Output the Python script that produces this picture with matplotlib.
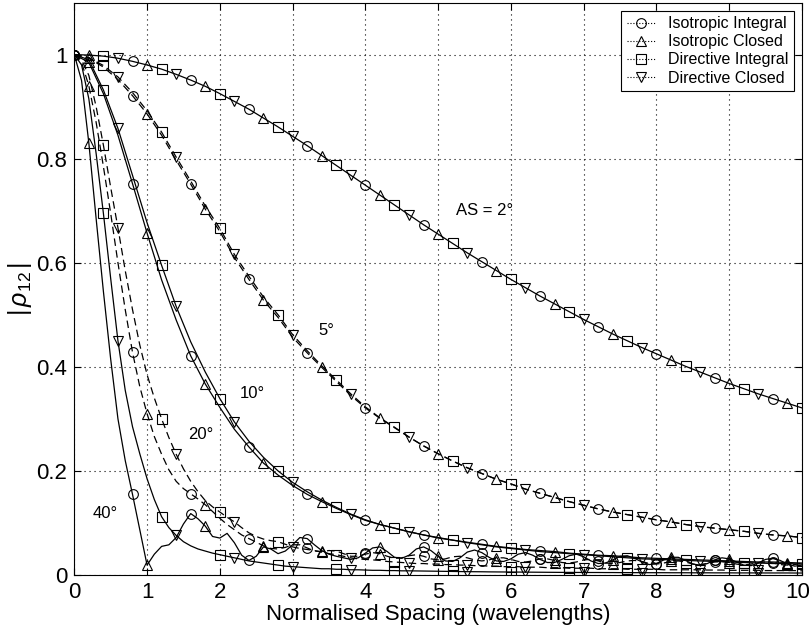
import numpy as np
import matplotlib
matplotlib.use("Agg")
import matplotlib.pyplot as plt
import matplotlib.transforms as mtransforms
from matplotlib.lines import Line2D

plt.rcParams["font.family"] = ["Liberation Sans", "DejaVu Sans"]
plt.rcParams["mathtext.fontset"] = "custom"
plt.rcParams["mathtext.rm"] = "Liberation Sans"
plt.rcParams["mathtext.it"] = "Liberation Sans:italic"

# sample positions (wavelengths)
x02 = np.round(np.arange(51) * 0.2, 1)
x01 = np.round(np.arange(101) * 0.1, 1)

# AS = 2 deg (isotropic and directive coincide)
as2 = [1.0, 0.999, 0.997, 0.993, 0.987, 0.98, 0.972, 0.962, 0.951, 0.939,
       0.925, 0.91, 0.895, 0.878, 0.861, 0.843, 0.825, 0.806, 0.787, 0.768,
       0.749, 0.73, 0.711, 0.692, 0.673, 0.655, 0.637, 0.619, 0.602, 0.585,
       0.568, 0.552, 0.536, 0.521, 0.506, 0.491, 0.477, 0.463, 0.45, 0.437,
       0.425, 0.413, 0.401, 0.39, 0.379, 0.368, 0.358, 0.348, 0.339, 0.33, 0.321]

# AS = 5 deg
as5_iso = [1.0, 0.993, 0.976, 0.952, 0.921, 0.886, 0.845, 0.797, 0.751, 0.703,
           0.66, 0.61, 0.568, 0.528, 0.495, 0.457, 0.427, 0.399, 0.372, 0.345,
           0.321, 0.301, 0.283, 0.265, 0.248, 0.233, 0.219, 0.206, 0.195, 0.184,
           0.175, 0.165, 0.157, 0.149, 0.141, 0.134, 0.127, 0.121, 0.116, 0.111,
           0.106, 0.102, 0.097, 0.093, 0.09, 0.087, 0.084, 0.08, 0.077, 0.075, 0.072]
as5_dir = [1.0, 0.994, 0.979, 0.957, 0.927, 0.892, 0.851, 0.803, 0.757, 0.709,
           0.666, 0.616, 0.574, 0.534, 0.5, 0.462, 0.431, 0.402, 0.375, 0.348,
           0.323, 0.302, 0.284, 0.265, 0.248, 0.233, 0.219, 0.206, 0.195, 0.184,
           0.175, 0.165, 0.157, 0.149, 0.141, 0.134, 0.127, 0.121, 0.116, 0.111,
           0.106, 0.102, 0.097, 0.093, 0.09, 0.087, 0.084, 0.08, 0.077, 0.075, 0.072]

# AS = 10 deg
as10_iso = [1.0, 0.985, 0.925, 0.845, 0.752, 0.657, 0.567, 0.49, 0.421, 0.367,
            0.322, 0.28, 0.246, 0.215, 0.192, 0.172, 0.155, 0.141, 0.128, 0.116,
            0.105, 0.097, 0.09, 0.083, 0.077, 0.072, 0.067, 0.063, 0.059, 0.055,
            0.052, 0.049, 0.047, 0.045, 0.042, 0.04, 0.038, 0.037, 0.035, 0.033,
            0.032, 0.031, 0.03, 0.029, 0.028, 0.027, 0.026, 0.025, 0.025, 0.024, 0.023]
as10_dir = [1.0, 0.99, 0.932, 0.858, 0.768, 0.677, 0.595, 0.516, 0.448, 0.39,
            0.339, 0.294, 0.257, 0.226, 0.2, 0.178, 0.16, 0.144, 0.13, 0.117,
            0.106, 0.097, 0.09, 0.083, 0.077, 0.071, 0.067, 0.062, 0.058, 0.054,
            0.051, 0.048, 0.045, 0.043, 0.041, 0.039, 0.037, 0.035, 0.033, 0.031,
            0.03, 0.029, 0.028, 0.027, 0.026, 0.025, 0.024, 0.023, 0.022, 0.022, 0.021]

# AS = 20 deg (0.1 spacing)
as20_iso = [1.0, 0.985, 0.94, 0.87, 0.785, 0.695, 0.6, 0.51, 0.428, 0.362,
            0.31, 0.266, 0.232, 0.202, 0.18, 0.166, 0.156, 0.146, 0.135, 0.122,
            0.109, 0.097, 0.087, 0.077, 0.07, 0.063, 0.056, 0.051, 0.05, 0.053,
            0.058, 0.058, 0.052, 0.046, 0.045, 0.047, 0.046, 0.041, 0.036, 0.036,
            0.04, 0.043, 0.041, 0.036, 0.032, 0.033, 0.037, 0.039, 0.036, 0.031,
            0.029, 0.031, 0.035, 0.036, 0.033, 0.029, 0.027, 0.029, 0.033, 0.033,
            0.03, 0.026, 0.025, 0.027, 0.031, 0.031, 0.028, 0.024, 0.023, 0.025,
            0.029, 0.03, 0.027, 0.023, 0.022, 0.024, 0.027, 0.028, 0.026, 0.022,
            0.021, 0.023, 0.026, 0.027, 0.025, 0.021, 0.02, 0.022, 0.025, 0.026,
            0.024, 0.021, 0.019, 0.021, 0.024, 0.025, 0.023, 0.02, 0.019, 0.02,
            0.023]
as20_dir = [1.0, 0.99, 0.96, 0.9, 0.826, 0.745, 0.667, 0.585, 0.51, 0.442,
            0.385, 0.34, 0.3, 0.264, 0.232, 0.204, 0.18, 0.16, 0.143, 0.131,
            0.121, 0.111, 0.102, 0.091, 0.081, 0.074, 0.069, 0.066, 0.064, 0.059,
            0.054, 0.051, 0.049, 0.047, 0.044, 0.041, 0.039, 0.036, 0.033, 0.031,
            0.03, 0.029, 0.028, 0.026, 0.025, 0.024, 0.023, 0.022, 0.022, 0.021,
            0.021, 0.02, 0.02, 0.019, 0.019, 0.018, 0.018, 0.017, 0.017, 0.016,
            0.016, 0.016, 0.015, 0.015, 0.015, 0.014, 0.014, 0.014, 0.013, 0.013,
            0.013, 0.013, 0.012, 0.012, 0.012, 0.012, 0.011, 0.011, 0.011, 0.011,
            0.011, 0.01, 0.01, 0.01, 0.01, 0.01, 0.01, 0.0095, 0.0095, 0.0095,
            0.009, 0.009, 0.009, 0.009, 0.009, 0.0085, 0.0085, 0.0085, 0.0085, 0.0085,
            0.008]

# AS = 40 deg (0.1 spacing)
as40_iso = [1.0, 0.95, 0.83, 0.685, 0.545, 0.415, 0.3, 0.22, 0.155, 0.087,
            0.019, 0.04, 0.055, 0.058, 0.072, 0.098, 0.118, 0.108, 0.094, 0.074,
            0.071, 0.08, 0.062, 0.038, 0.028, 0.036, 0.054, 0.05, 0.041, 0.046,
            0.058, 0.072, 0.07, 0.058, 0.047, 0.04, 0.036, 0.033, 0.03, 0.033,
            0.042, 0.052, 0.054, 0.045, 0.034, 0.032, 0.038, 0.05, 0.054, 0.047,
            0.036, 0.027, 0.026, 0.033, 0.044, 0.048, 0.043, 0.034, 0.027, 0.026,
            0.031, 0.04, 0.043, 0.038, 0.03, 0.024, 0.024, 0.03, 0.037, 0.04,
            0.035, 0.027, 0.022, 0.023, 0.029, 0.036, 0.037, 0.032, 0.025, 0.02,
            0.022, 0.029, 0.034, 0.034, 0.028, 0.021, 0.019, 0.022, 0.029, 0.033,
            0.031, 0.025, 0.019, 0.018, 0.023, 0.03, 0.032, 0.028, 0.021, 0.017,
            0.019]
as40_dir = [1.0, 0.98, 0.915, 0.81, 0.695, 0.57, 0.45, 0.355, 0.285, 0.233,
            0.185, 0.145, 0.112, 0.091, 0.076, 0.064, 0.056, 0.05, 0.046, 0.042,
            0.039, 0.036, 0.033, 0.03, 0.027, 0.025, 0.023, 0.021, 0.019, 0.017,
            0.016, 0.015, 0.014, 0.013, 0.012, 0.012, 0.011, 0.011, 0.01, 0.01,
            0.0095, 0.009, 0.009, 0.0085, 0.0085, 0.008, 0.008, 0.0078, 0.0076, 0.0074,
            0.0072, 0.007, 0.0068, 0.0066, 0.0064, 0.0063, 0.0062, 0.006, 0.0059, 0.0058,
            0.0057, 0.0056, 0.0055, 0.0054, 0.0053, 0.0052, 0.0051, 0.005, 0.005, 0.0049,
            0.0049, 0.0048, 0.0048, 0.0047, 0.0047, 0.0046, 0.0046, 0.0045, 0.0045, 0.0044,
            0.0044, 0.0044, 0.0043, 0.0043, 0.0043, 0.0042, 0.0042, 0.0042, 0.0041, 0.0041,
            0.0041, 0.004, 0.004, 0.004, 0.004, 0.0039, 0.0039, 0.0039, 0.0039, 0.0038,
            0.0038]

labels = ["Isotropic Integral", "Isotropic Closed", "Directive Integral", "Directive Closed"]
markers = ["o", "^", "s", "v"]

dash = (0, (6, 3.5))
curves = [
    (x02, as2, as2, "-", 1),
    (x02, as5_iso, as5_dir, dash, 1),
    (x02, as10_iso, as10_dir, "-", 1),
    (x01, as20_iso, as20_dir, dash, 2),
    (x01, as40_iso, as40_dir, "-", 2),
]

fig = plt.figure(figsize=(8.11, 6.32), dpi=100)
ax = fig.add_axes([0.0916, 0.0902, 0.8973, 0.9058])

mk = {k: ([], []) for k in range(4)}
for x, iso, dirv, ls, step in curves:
    ax.plot(x, iso, color="k", lw=0.9, ls=ls)
    if dirv is not iso:
        ax.plot(x, dirv, color="k", lw=0.9, ls=ls)
    for i in range(0, len(x), step):
        k = (i // step) % 4
        src = iso if k < 2 else dirv
        mk[k][0].append(x[i])
        mk[k][1].append(src[i])

for k in range(4):
    ax.plot(mk[k][0], mk[k][1], ls="none", marker=markers[k], ms=7,
            mfc="none", mec="k", mew=0.8)

# angle spread labels
ax.text(5.24, 0.70, "AS = 2°", fontsize=12, va="center")
ax.text(3.35, 0.47, "5°", fontsize=12, va="center")
ax.text(2.28, 0.348, "10°", fontsize=12, va="center")
ax.text(1.57, 0.27, "20°", fontsize=12, va="center")
ax.text(0.25, 0.118, "40°", fontsize=12, va="center")

handles = [Line2D([], [], color="k", ls=":", lw=0.8, marker=m, ms=7,
                  mfc="none", mec="k", mew=0.8) for m in markers]
leg = ax.legend(handles, labels, loc="upper right", fontsize=11.5,
                handlelength=1.8, handletextpad=0.8, labelspacing=0.2,
                borderpad=0.35, borderaxespad=0.5, fancybox=False, framealpha=1)
leg.get_frame().set_edgecolor("k")
leg.get_frame().set_linewidth(0.8)

ax.set_xlim(0, 10)
ax.set_ylim(0, 1.1)
ax.set_xticks(range(11))
ax.set_yticks([0, 0.2, 0.4, 0.6, 0.8, 1.0])
ax.set_yticklabels(["0", "0.2", "0.4", "0.6", "0.8", "1"])
ax.tick_params(direction="in", top=True, right=True, length=5, width=0.8,
               labelsize=16, pad=5)
ax.grid(True, ls=(0, (1, 3.5)), color="k", lw=0.8)
for s in ax.spines.values():
    s.set_linewidth(0.8)

# keep the last x tick label inside the figure edge
last = ax.get_xticklabels()[-1]
last.set_transform(last.get_transform() +
                   mtransforms.ScaledTranslation(-4 / 100, 0, fig.dpi_scale_trans))

ax.set_xlabel("Normalised Spacing (wavelengths)", fontsize=16, labelpad=1)
ax.set_ylabel(r"$|\,\mathit{\rho}_{\mathrm{12}}\,|$", fontsize=18, labelpad=2)

fig.savefig("out.png", dpi=100)
